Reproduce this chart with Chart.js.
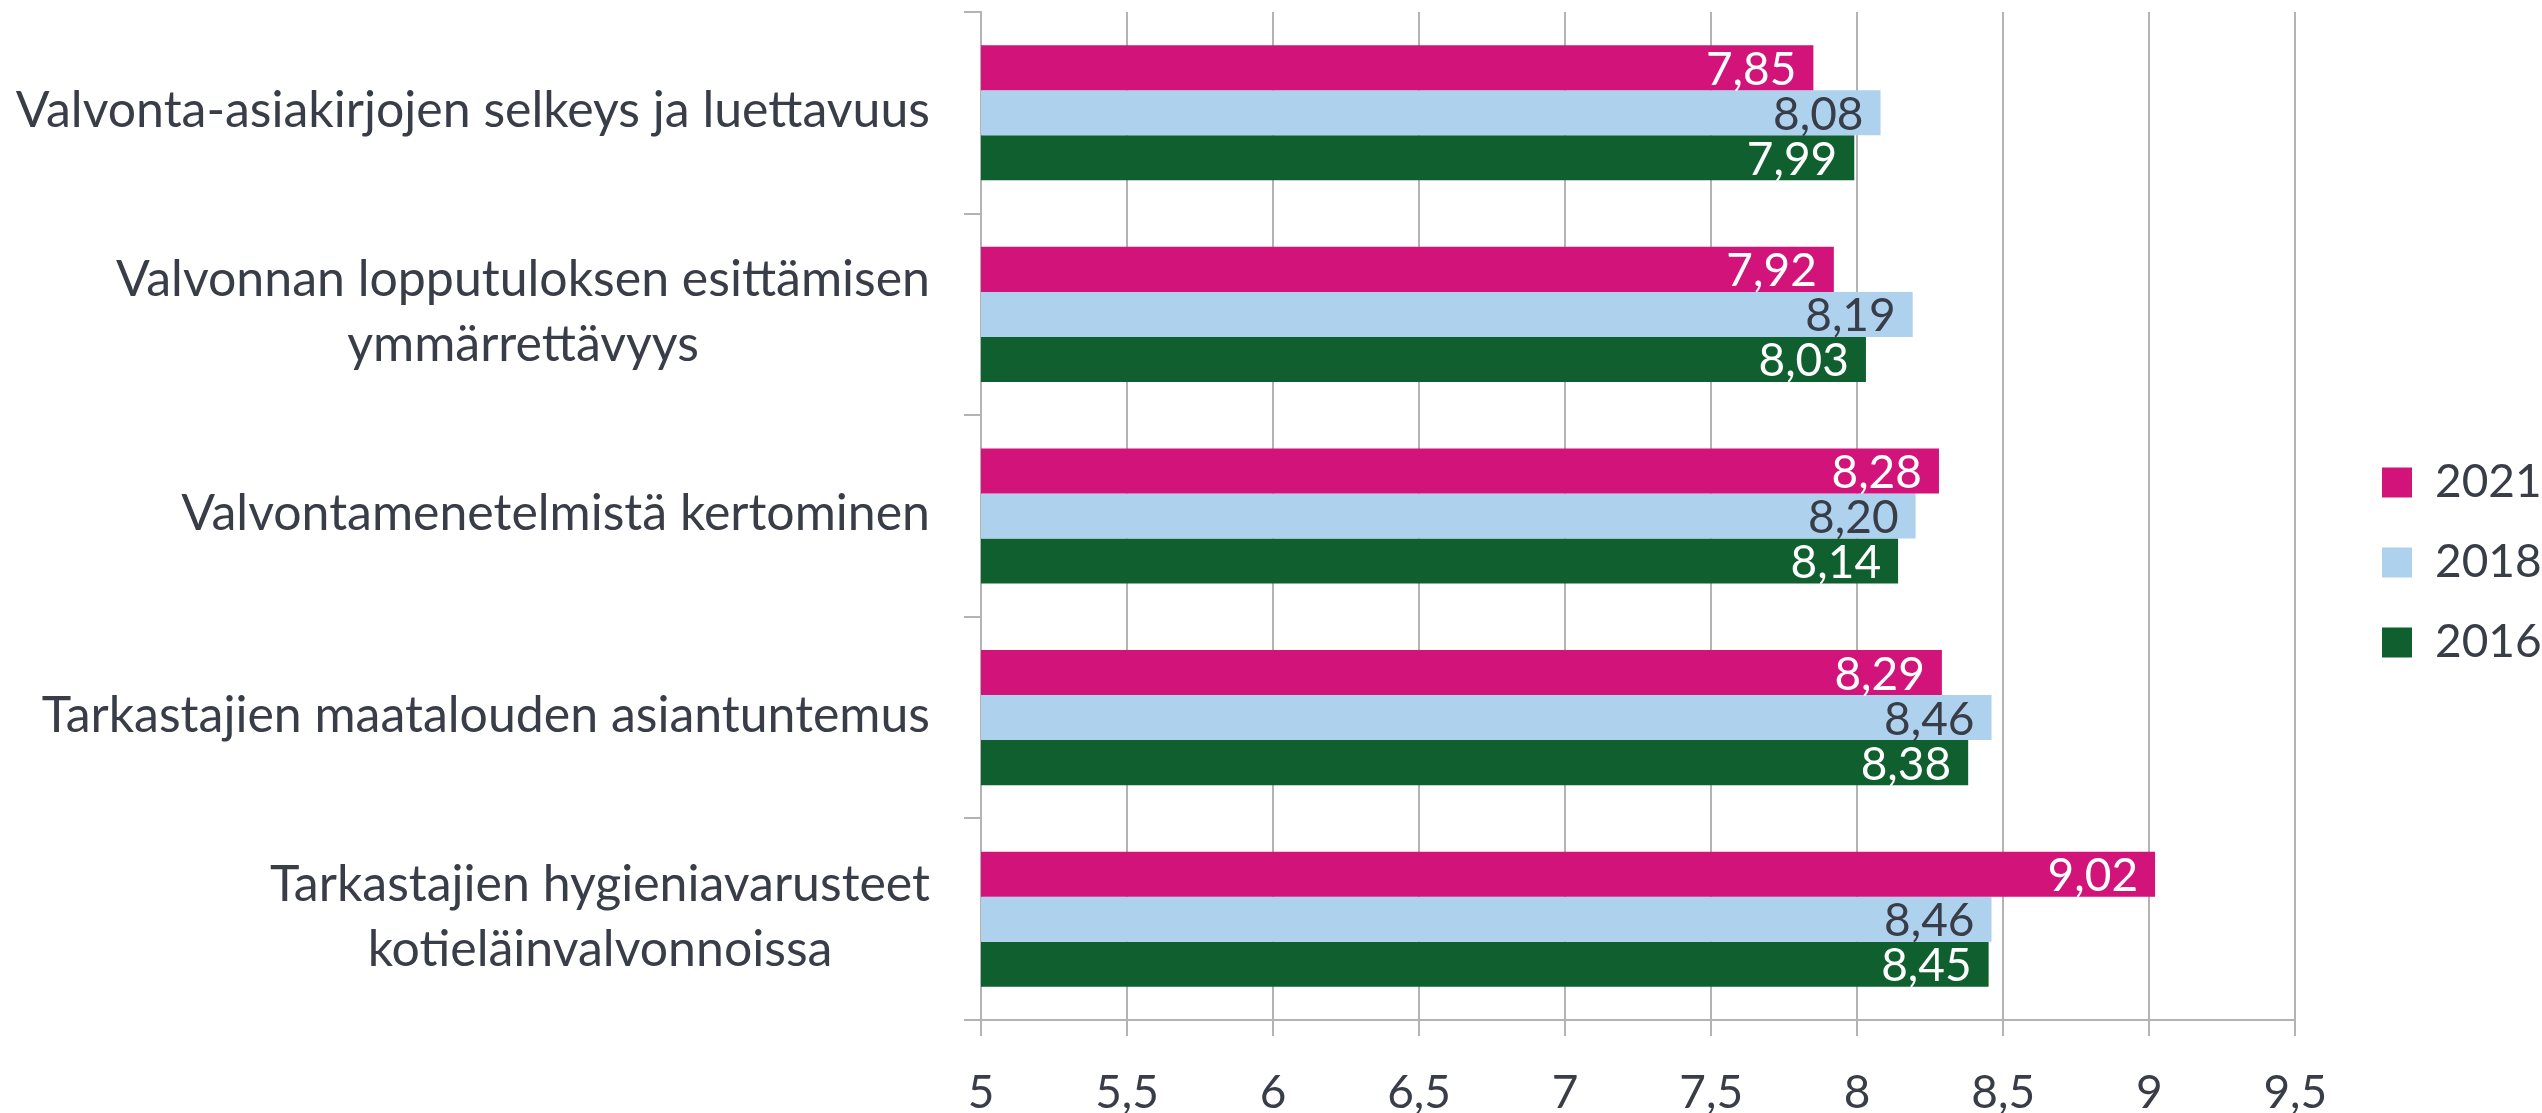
<!DOCTYPE html>
<html>
<head>
<meta charset="utf-8">
<script src="https://cdn.jsdelivr.net/npm/chart.js@4/dist/chart.umd.min.js"></script>
<style>
  html, body { margin: 0; padding: 0; background: #ffffff; }
  #wrap { width: 2542px; height: 1113px; }
</style>
</head>
<body>
<div id="wrap"><canvas id="c" width="2542" height="1113"></canvas></div>
<script>
// ---- data ----
const categories = [
  'Valvonta-asiakirjojen selkeys ja luettavuus',
  ['Valvonnan lopputuloksen esittämisen', 'ymmärrettävyys'],
  'Valvontamenetelmistä kertominen',
  'Tarkastajien maatalouden asiantuntemus',
  ['Tarkastajien hygieniavarusteet', 'kotieläinvalvonnoissa']
];
const seriesNames = ['2021', '2018', '2016'];
const values2021 = [7.85, 7.92, 8.28, 8.29, 9.02];
const values2018 = [8.08, 8.19, 8.20, 8.46, 8.46];
const values2016 = [7.99, 8.03, 8.14, 8.38, 8.45];
const tickLabels = ['5', '5,5', '6', '6,5', '7', '7,5', '8', '8,5', '9', '9,5'];

// ---- styles ----
const FONT = 'Lato';
const TEXT = '#383d48';
const GRID = '#b3b3b3';
const seriesColors = ['#D1137A', '#AED2EE', '#0F602E'];
const valueLabelColors = ['#ffffff', '#383d48', '#ffffff'];

const fmt = v => v.toFixed(2).replace('.', ',');

const valueLabels = {
  id: 'valueLabels',
  afterDatasetsDraw(chart, args, opts) {
    const ctx = chart.ctx;
    ctx.save();
    ctx.font = opts.size + 'px ' + FONT;
    ctx.textAlign = 'right';
    ctx.textBaseline = 'alphabetic';
    chart.data.datasets.forEach((ds, di) => {
      const meta = chart.getDatasetMeta(di);
      meta.data.forEach((bar, i) => {
        ctx.fillStyle = opts.colors[di];
        ctx.fillText(fmt(ds.data[i]), bar.x - opts.pad, bar.y + opts.baseline);
      });
    });
    ctx.restore();
  }
};

const categoryLabels = {
  id: 'categoryLabels',
  afterDraw(chart, args, opts) {
    const sc = chart.scales.y;
    const ctx = chart.ctx;
    ctx.save();
    ctx.font = opts.size + 'px ' + FONT;
    ctx.fillStyle = TEXT;
    ctx.textAlign = 'center';
    ctx.textBaseline = 'alphabetic';
    const right = sc.right - opts.gap;
    chart.data.labels.forEach((lab, i) => {
      const lines = Array.isArray(lab) ? lab : [lab];
      const w = Math.max(...lines.map(l => ctx.measureText(l).width));
      const cx = right - w / 2;
      const cy = sc.getPixelForTick(i);
      lines.forEach((l, j) => {
        ctx.fillText(l, cx, cy + (j - (lines.length - 1) / 2) * opts.lineHeight + opts.baseline);
      });
    });
    ctx.restore();
  }
};

const legendShift = {
  id: 'legendShift',
  afterLayout(chart, args, opts) {
    const lg = chart.legend;
    if (!lg) return;
    const pad = lg.options.labels.padding;
    const dx = opts.boxX - (lg.left + pad);
    lg.left += dx; lg.right += dx;
    lg.top += opts.dy; lg.bottom += opts.dy;
  }
};

new Chart(document.getElementById('c'), {
  type: 'bar',
  data: {
    labels: categories,
    datasets: [
      { label: seriesNames[0], data: values2021, backgroundColor: seriesColors[0] },
      { label: seriesNames[1], data: values2018, backgroundColor: seriesColors[1] },
      { label: seriesNames[2], data: values2016, backgroundColor: seriesColors[2] }
    ]
  },
  options: {
    indexAxis: 'y',
    responsive: false,
    devicePixelRatio: 1,
    animation: false,
    datasets: { bar: { barPercentage: 1.0, categoryPercentage: 0.67, borderWidth: 0 } },
    layout: { padding: { top: 12, left: 0, right: 43, bottom: 0 } },
    scales: {
      x: {
        type: 'linear',
        min: 5, max: 9.5,
        ticks: {
          stepSize: 0.5,
          color: TEXT,
          font: { family: FONT, size: 46 },
          padding: 30,
          callback: (v, i) => tickLabels[i]
        },
        grid: { color: GRID, lineWidth: 2, tickLength: 16, drawTicks: true },
        border: { display: true, color: GRID, width: 2 },
        afterFit: s => { s.height = 93; }
      },
      y: {
        type: 'category',
        ticks: { color: 'rgba(0,0,0,0)', font: { family: FONT, size: 10 }, padding: 2 },
        grid: { drawOnChartArea: false, color: GRID, lineWidth: 2, tickLength: 17, offset: true },
        border: { display: true, color: GRID, width: 2 },
        afterFit: s => { s.width = 981; s.paddingTop = 0; s.paddingBottom = 0; }
      }
    },
    plugins: {
      legend: {
        position: 'right',
        labels: {
          boxWidth: 30, boxHeight: 30, padding: 34,
          color: TEXT,
          font: { family: FONT, size: 46 }
        }
      },
      tooltip: { enabled: false },
      valueLabels: { size: 46, pad: 17, baseline: 17, colors: valueLabelColors },
      categoryLabels: { size: 50, gap: 51, lineHeight: 65, baseline: 14 },
      legendShift: { boxX: 2382, dy: 0 }
    }
  },
  plugins: [valueLabels, categoryLabels, legendShift]
});
</script>
</body>
</html>
